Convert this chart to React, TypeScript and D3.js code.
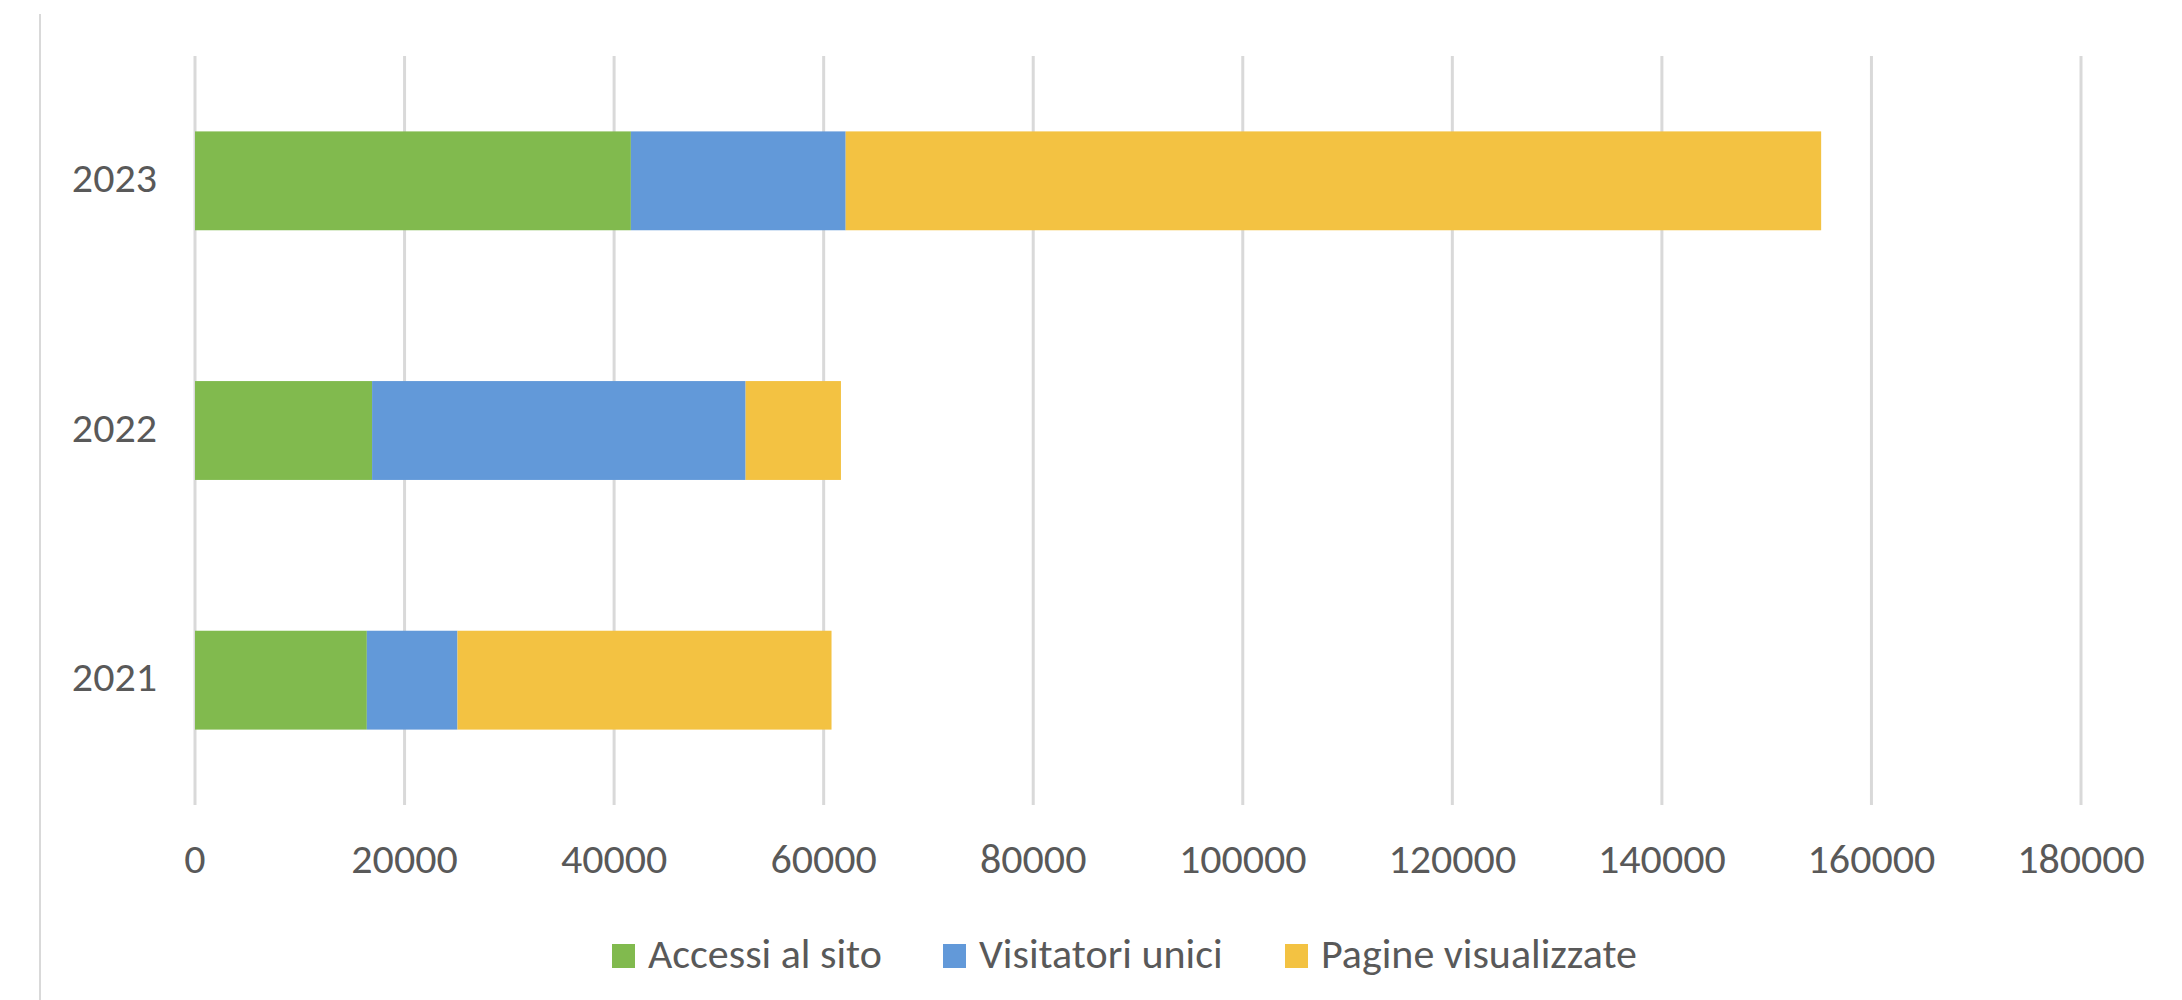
import React, { useEffect } from "react";
import * as d3 from "d3";

const years = ["2023", "2022", "2021"];
const seriesNames = ["Accessi al sito", "Visitatori unici", "Pagine visualizzate"];
const seriesColors = ["#81BA4E", "#6299D9", "#F3C242"];
const accessi = [41600, 16900, 16400];
const visitatori = [20500, 35650, 8650];
const pagine = [93100, 9100, 35700];
const xTicks = [0, 20000, 40000, 60000, 80000, 100000, 120000, 140000, 160000, 180000];

const W = 2182;
const H = 1000;
const FONT = "Carlito, Calibri, Lato, 'Liberation Sans', Arial, sans-serif";

export default function App() {
  useEffect(() => {
    document.body.style.margin = "0";
  }, []);

  const x = d3.scaleLinear().domain([0, 180000]).range([195, 2081]);
  const y = d3.scaleBand<string>().domain(years).range([56, 805]).paddingInner(0.604).paddingOuter(0.302);

  const rows = years.map((yr, i) => ({ year: yr, a: accessi[i], v: visitatori[i], p: pagine[i] }));
  const stack = d3.stack<any>().keys(["a", "v", "p"]);
  const layers = stack(rows);

  const legendItems = [
    { name: seriesNames[0], color: seriesColors[0], x: 612 },
    { name: seriesNames[1], color: seriesColors[1], x: 943 },
    { name: seriesNames[2], color: seriesColors[2], x: 1285 },
  ];

  return (
    <svg width={W} height={H} style={{ display: "block", background: "#fff" }} fontFamily={FONT}>
      <line x1={40} x2={40} y1={14} y2={H} stroke="#d9d9d9" strokeWidth={2} />
      {xTicks.map((t) => (
        <g key={t}>
          <line x1={x(t)} x2={x(t)} y1={56} y2={805} stroke="#d9d9d9" strokeWidth={3} />
          <text x={x(t)} y={873} textAnchor="middle" fontSize={42} fill="#595959">
            {t}
          </text>
        </g>
      ))}
      {layers.map((layer, li) => (
        <g key={li} fill={seriesColors[li]}>
          {layer.map((d: any, i: number) => (
            <rect
              key={i}
              x={x(d[0])}
              width={x(d[1]) - x(d[0])}
              y={y(d.data.year)}
              height={y.bandwidth()}
            />
          ))}
        </g>
      ))}
      {years.map((yr) => (
        <text
          key={yr}
          x={157}
          y={(y(yr) as number) + y.bandwidth() / 2 + 11}
          textAnchor="end"
          fontSize={42}
          fill="#595959"
        >
          {yr}
        </text>
      ))}
      {legendItems.map((it) => (
        <g key={it.name}>
          <rect x={it.x} y={944} width={23} height={24} fill={it.color} />
          <text x={it.x + 36} y={968} fontSize={42} fill="#595959">
            {it.name}
          </text>
        </g>
      ))}
    </svg>
  );
}
